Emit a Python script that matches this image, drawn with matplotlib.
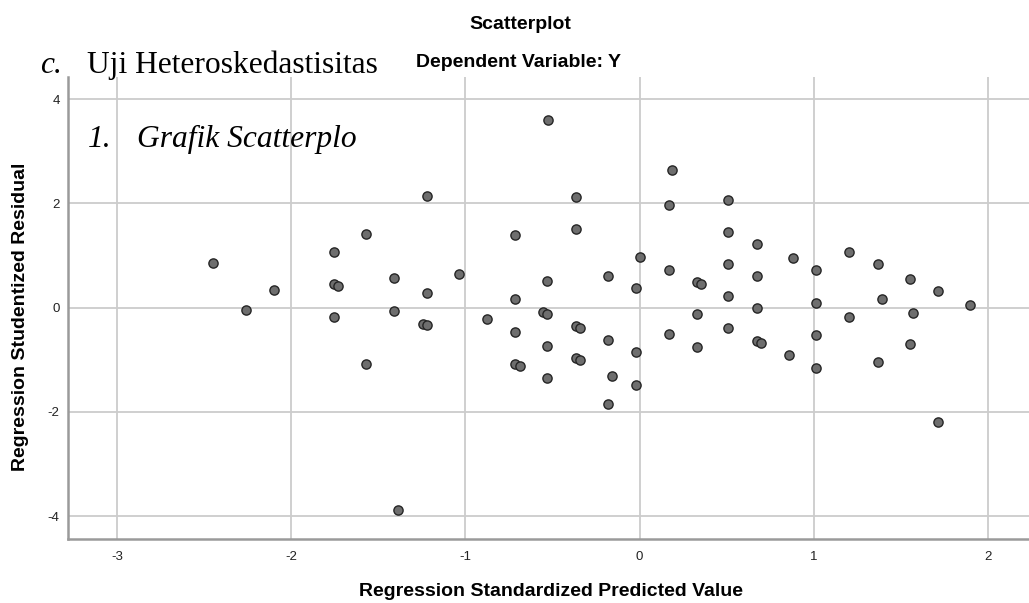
import matplotlib
matplotlib.use("Agg")
import matplotlib.pyplot as plt

# Regression Standardized Predicted Value
pred = [-2.447, -2.262, -2.101, -1.754, -1.754, -1.729, -1.754, -1.570, -1.570,
        -1.408, -1.408, -1.387, -1.222, -1.222, -1.245, -1.222, -1.037, -0.877,
        -0.715, -0.715, -0.715, -0.715, -0.689, -0.526, -0.529, -0.554, -0.529,
        -0.529, -0.529, -0.367, -0.367, -0.367, -0.344, -0.367, -0.344, -0.183,
        -0.183, -0.183, -0.160, 0.002, -0.021, -0.021, -0.021, 0.187, 0.166,
        0.166, 0.166, 0.327, 0.350, 0.327, 0.327, 0.510, 0.510, 0.510, 0.510,
        0.510, 0.672, 0.672, 0.672, 0.672, 0.695, 0.879, 0.858, 1.014, 1.014,
        1.014, 1.014, 1.203, 1.203, 1.366, 1.389, 1.366, 1.551, 1.572, 1.551,
        1.713, 1.713, 1.899]
# Regression Studentized Residual
resid = [0.864, -0.044, 0.340, 1.075, 0.449, 0.417, -0.179, 1.420, -1.075,
         0.564, -0.063, -3.883, 2.150, 0.282, -0.313, -0.338, 0.641, -0.223,
         1.401, 0.161, -0.466, -1.081, -1.125, 3.603, 0.507, -0.083, -0.115,
         -0.729, -1.349, 2.131, 1.505, -0.345, -0.384, -0.971, -1.010, 0.614,
         -0.620, -1.854, -1.317, 0.973, 0.378, -0.856, -1.478, 2.637, 1.965,
         0.724, -0.505, 0.493, 0.455, -0.127, -0.749, 2.073, 1.459, 0.839, 0.219,
         -0.395, 1.223, 0.603, -0.012, -0.633, -0.678, 0.948, -0.908, 0.718, 0.090,
         -0.524, -1.152, 1.069, -0.179, 0.833, 0.173, -1.042, 0.557, -0.102, -0.691,
         0.321, -2.194, 0.046]

xticks = [-3, -2, -1, 0, 1, 2]
yticks = [-4, -2, 0, 2, 4]

W, H = 1029, 603
fig = plt.figure(figsize=(W / 100, H / 100), dpi=100)

def px(x, y):
    return x / W, 1 - y / H

left, right, top, bottom = 68, 1029, 77, 539
ax = fig.add_axes([left / W, 1 - bottom / H, (right - left) / W, (bottom - top) / H])
ax.set_xlim(-3.281, 2.235)
ax.set_ylim(-4.44, 4.428)
ax.set_xticks(xticks)
ax.set_yticks(yticks)
ax.set_xticklabels([str(t) for t in xticks])
ax.set_yticklabels([str(t) for t in yticks])
ax.grid(True, color="#cccccc", linewidth=1.3)
ax.set_axisbelow(True)
for s in ["top", "right"]:
    ax.spines[s].set_visible(False)
for s in ["left", "bottom"]:
    ax.spines[s].set_color("#9a9a9a")
    ax.spines[s].set_linewidth(1.8)
ax.tick_params(length=0, labelsize=9.5, labelcolor="#222222")
ax.tick_params(axis="x", pad=9)
ax.tick_params(axis="y", pad=6)
for lab in ax.get_xticklabels() + ax.get_yticklabels():
    lab.set_family("Liberation Sans")

ax.scatter(pred, resid, s=44, facecolor="#6e6e6e", edgecolor="#252525",
           linewidth=1.0, zorder=3)

sans = "Liberation Sans"
serif = "Liberation Serif"
fig.text(*px(520, 29), "Scatterplot", ha="center", va="baseline",
         fontsize=14, fontweight="bold", family=sans)
fig.text(*px(519, 67), "Dependent Variable: Y", ha="center", va="baseline",
         fontsize=14, fontweight="bold", family=sans)
fig.text(*px(21, 317), "Regression Studentized Residual", ha="center", va="center",
         rotation=90, fontsize=14, fontweight="bold", family=sans)
fig.text(*px(551, 591), "Regression Standardized Predicted Value", ha="center",
         va="center", fontsize=14, fontweight="bold", family=sans)

fig.text(*px(40, 73), "c.", ha="left", va="baseline", fontsize=22.7,
         style="italic", family=serif)
fig.text(*px(87, 73), "Uji Heteroskedastisitas", ha="left", va="baseline",
         fontsize=22.7, family=serif)
fig.text(*px(88, 147), "1.", ha="left", va="baseline", fontsize=22.7,
         style="italic", family=serif)
fig.text(*px(137, 147), "Grafik Scatterplo", ha="left", va="baseline",
         fontsize=22.7, style="italic", family=serif)

fig.savefig("out.png", dpi=100)
